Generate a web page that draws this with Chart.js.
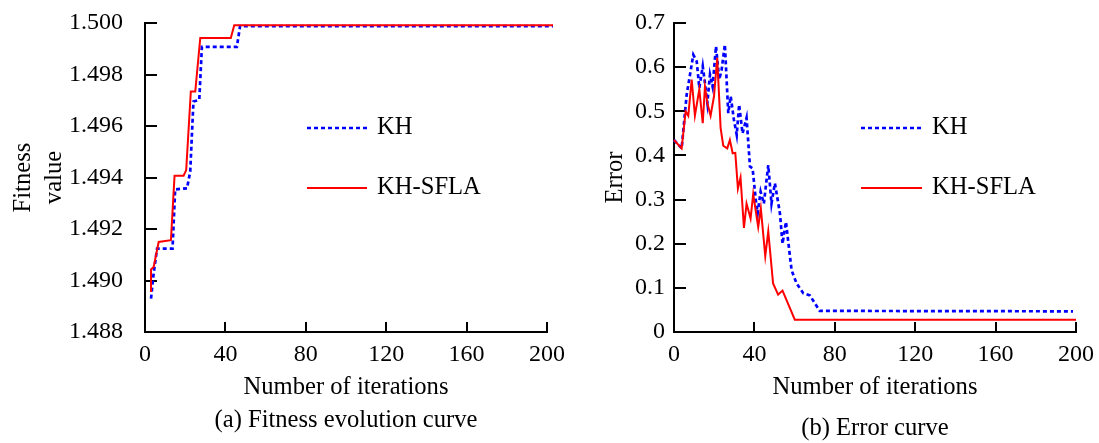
<!DOCTYPE html>
<html>
<head>
<meta charset="utf-8">
<script src="https://cdn.jsdelivr.net/npm/chart.js@4.4.1/dist/chart.umd.min.js"></script>
<style>
  html, body { margin: 0; padding: 0; background: #fff; }
  #wrapA { position: absolute; left: 0; top: 0; width: 570px; height: 443px; }
  #wrapB { position: absolute; left: 570px; top: 0; width: 529px; height: 443px; }
</style>
</head>
<body>
<div id="wrapA"><canvas id="chartA" width="570" height="443"></canvas></div>
<div id="wrapB"><canvas id="chartB" width="529" height="443"></canvas></div>
<script>
// ---------- data ----------
const xTicks = [0, 40, 80, 120, 160, 200];
const fitnessTicks = [1.488, 1.490, 1.492, 1.494, 1.496, 1.498, 1.500];
const errorTicks = [0, 0.1, 0.2, 0.3, 0.4, 0.5, 0.6, 0.7];

// (a) Fitness evolution curve
const fitKH_iter = [3, 4.3, 6, 13.7, 15, 20.9, 22.5, 24.1, 27, 28.3, 45.7, 47.3, 203];
const fitKH_val  = [1.48930, 1.49027, 1.49124, 1.49124, 1.49354, 1.49358, 1.49423, 1.49695, 1.49702, 1.49907, 1.49907, 1.49988, 1.49988];
const fitSFLA_iter = [3, 3, 4.3, 6.8, 12.9, 14.7, 19.2, 20.5, 22.8, 25, 27.5, 42.7, 44.4, 203];
const fitSFLA_val  = [1.48956, 1.49043, 1.49053, 1.49150, 1.49157, 1.49407, 1.49407, 1.49429, 1.49734, 1.49734, 1.49942, 1.49942, 1.49991, 1.49991];

// (b) Error curve
const errKH_iter = [0, 3.8, 6.3, 9.6, 11.3, 12.6, 14.3, 15.4, 16.6, 17.9, 19.2, 20.9, 22.5, 23.7, 25.3, 27, 28.2, 29.8, 31.2, 32.4, 34.1, 36.1, 37.8, 39.1, 40.7, 41.6, 43.1, 44.7, 46.9, 48.5, 50.2, 52.7, 54, 55.7, 58.5, 61, 64.3, 67.6, 72.5, 198.5];
const errKH_val  = [0.435, 0.416, 0.5375, 0.628, 0.613, 0.553, 0.602, 0.564, 0.519, 0.583, 0.556, 0.647, 0.572, 0.594, 0.651, 0.496, 0.534, 0.481, 0.447, 0.515, 0.450, 0.485, 0.375, 0.371, 0.299, 0.269, 0.318, 0.291, 0.378, 0.291, 0.337, 0.269, 0.200, 0.2495, 0.140, 0.110, 0.088, 0.083, 0.048, 0.047];
const errSFLA_iter = [0, 3.8, 5.8, 7.1, 8.8, 10.4, 12.6, 14.3, 15.4, 16.6, 18.2, 19.9, 21.5, 23.2, 24.5, 26.5, 27.8, 29.2, 30.5, 31.8, 33.1, 34.8, 36.1, 38.1, 39.4, 41.9, 43.2, 45.4, 46.9, 49.3, 51.8, 54, 60.1, 200];
const errSFLA_val  = [0.435, 0.416, 0.500, 0.490, 0.572, 0.490, 0.550, 0.473, 0.556, 0.519, 0.490, 0.534, 0.621, 0.462, 0.422, 0.416, 0.435, 0.405, 0.406, 0.325, 0.350, 0.236, 0.291, 0.257, 0.3125, 0.238, 0.280, 0.172, 0.228, 0.110, 0.085, 0.094, 0.028, 0.028];

const seriesNames = ['KH', 'KH-SFLA'];
const xTitle = 'Number of iterations';
const captionA = '(a) Fitness evolution curve';
const captionB = '(b) Error curve';

// ---------- helpers ----------
const FAMILY = "'Liberation Serif', 'Times New Roman', Times, serif";
const tickFont = { family: FAMILY, size: 24, weight: 'normal' };
const textFont = { family: FAMILY, size: 24.6, weight: 'normal' };
const pts = (xs, ys) => xs.map((x, i) => ({ x: x, y: ys[i] }));

const insideLegend = {
  id: 'insideLegend',
  afterDraw(chart, args, opts) {
    const { ctx, chartArea } = chart;
    chart.data.datasets.forEach((ds, i) => {
      const x0 = chartArea.left + opts.dx;
      const y = chartArea.top + opts.dy[i];
      ctx.save();
      ctx.strokeStyle = ds.borderColor;
      ctx.lineWidth = ds.borderWidth;
      ctx.setLineDash(ds.borderDash || []);
      ctx.beginPath();
      ctx.moveTo(x0, y);
      ctx.lineTo(x0 + opts.len, y);
      ctx.stroke();
      ctx.setLineDash([]);
      ctx.fillStyle = '#000';
      ctx.font = '24.6px ' + FAMILY;
      ctx.textBaseline = 'middle';
      ctx.textAlign = 'left';
      ctx.fillText(ds.label, x0 + opts.len + opts.gap, y);
      ctx.restore();
    });
  }
};

function makeDatasets(khX, khY, sfX, sfY) {
  return [
    { label: seriesNames[0], data: pts(khX, khY), borderColor: '#0000ff', borderWidth: 2.7,
      borderDash: [4, 3], pointRadius: 0, tension: 0, fill: false, order: 1, clip: 10 },
    { label: seriesNames[1], data: pts(sfX, sfY), borderColor: '#ff0000', borderWidth: 2,
      pointRadius: 0, tension: 0, fill: false, order: 0, clip: 10 }
  ];
}

const zeroPad = s => { s.paddingTop = 0; s.paddingBottom = 0; s.paddingLeft = 0; s.paddingRight = 0; };

function makeOptions(cfg) {
  return {
    responsive: false,
    devicePixelRatio: 1,
    animation: false,
    layout: { padding: { left: 0, top: 23, right: 23, bottom: 0 } },
    scales: {
      x: {
        type: 'linear', position: 'bottom', min: 0, max: 200,
        afterBuildTicks: s => { s.ticks = xTicks.map(v => ({ value: v })); },
        ticks: { font: tickFont, color: '#000', padding: 18.6, maxRotation: 0, autoSkip: false,
                 callback: v => String(v) },
        grid: { drawOnChartArea: false, drawTicks: true, tickLength: -10, color: '#000', lineWidth: 2 },
        border: { display: true, color: '#000', width: 2 },
        title: { display: true, text: xTitle, font: textFont, color: '#000', padding: 0 },
        afterFit: s => { s.height = 70.4; zeroPad(s); }
      },
      y: {
        type: 'linear', position: 'left', min: cfg.yMin, max: cfg.yMax,
        afterBuildTicks: s => { s.ticks = cfg.yTicks.map(v => ({ value: v })); },
        ticks: { font: tickFont, color: '#000', padding: cfg.yPad, autoSkip: false, callback: cfg.yFmt },
        grid: { drawOnChartArea: false, drawTicks: true, tickLength: -12, color: '#000', lineWidth: 2 },
        border: { display: true, color: '#000', width: 2 },
        title: { display: true, text: cfg.yTitle, font: { family: FAMILY, size: 24.6, lineHeight: 1.25 },
                 color: '#000', padding: { top: cfg.yTitleTop, bottom: 0 } },
        afterFit: s => { s.width = cfg.yWidth; zeroPad(s); }
      }
    },
    plugins: {
      legend: { display: false },
      tooltip: { enabled: false },
      title: { display: true, position: 'bottom', fullSize: false, text: cfg.caption, font: textFont,
               color: '#000', padding: cfg.capPad },
      insideLegend: cfg.legend
    }
  };
}

new Chart(document.getElementById('chartA'), {
  type: 'line',
  data: { datasets: makeDatasets(fitKH_iter, fitKH_val, fitSFLA_iter, fitSFLA_val) },
  options: makeOptions({
    yMin: 1.488, yMax: 1.500, yTicks: fitnessTicks, yFmt: v => Number(v).toFixed(3),
    yPad: 34, yTitle: ['Fitness', 'value'], yTitleTop: 8.6, yWidth: 145,
    caption: captionA, capPad: { top: 3, bottom: 8 },
    legend: { dx: 162, dy: [105, 165], len: 60, gap: 10 }
  }),
  plugins: [insideLegend]
});

new Chart(document.getElementById('chartB'), {
  type: 'line',
  data: { datasets: makeDatasets(errKH_iter, errKH_val, errSFLA_iter, errSFLA_val) },
  options: makeOptions({
    yMin: 0, yMax: 0.7, yTicks: errorTicks, yFmt: v => (v === 0 ? '0' : Number(v).toFixed(1)),
    yPad: 21, yTitle: 'Error', yTitleTop: 30, yWidth: 104,
    caption: captionB, capPad: { top: 11, bottom: 0 },
    legend: { dx: 187, dy: [105, 165], len: 61, gap: 10 }
  }),
  plugins: [insideLegend]
});
</script>
</body>
</html>
